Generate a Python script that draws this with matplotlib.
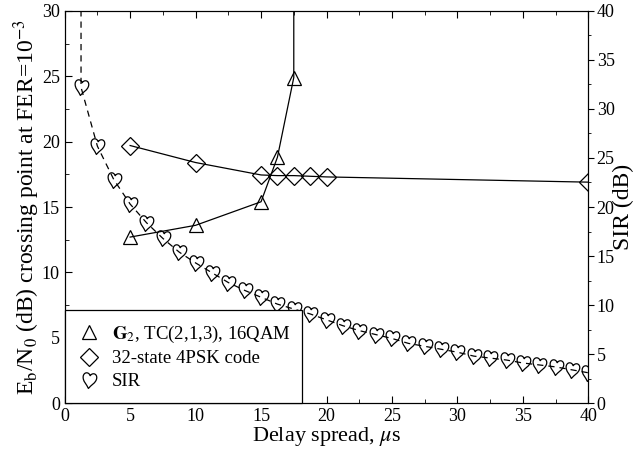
import numpy as np
import matplotlib
matplotlib.use("Agg")
import matplotlib.pyplot as plt
from matplotlib.lines import Line2D
from matplotlib.path import Path
from matplotlib.transforms import Affine2D

plt.rcParams['font.family'] = ['Liberation Serif', 'DejaVu Serif']
plt.rcParams['mathtext.fontset'] = 'stix'

# G2, TC(2,1,3), 16QAM  (left axis); last point runs off the top
g2_x = [5, 10, 15, 16.25, 17.5, 17.5]
g2_y = [12.7, 13.6, 15.4, 18.8, 24.9, 100]

# 32-state 4PSK code (left axis)
psk_x = [5, 10, 15, 16.25, 17.5, 18.75, 20, 40]
psk_y = [19.7, 18.4, 17.45, 17.4, 17.4, 17.35, 17.3, 16.9]

# SIR in dB (right axis); first point runs off the top
sir_x = [1.25] + [1.25 * k for k in range(1, 33)]
sir_y = [100, 32.2, 26.2, 22.8, 20.3, 18.4, 16.8, 15.4, 14.3, 13.3, 12.3,
         11.5, 10.8, 10.1, 9.6, 9.1, 8.5, 7.9, 7.4, 7.0, 6.6, 6.1, 5.8,
         5.5, 5.2, 4.8, 4.6, 4.4, 4.1, 3.9, 3.7, 3.4, 3.1]

labels = [r'$\mathbf{G}_2$, TC(2,1,3), 16QAM', '32-state 4PSK code', 'SIR']

# outline heart marker, tilted slightly like the original
verts = [(0, -1),
         (-0.25, -0.55), (-0.85, -0.2), (-0.85, 0.4),
         (-0.85, 0.95), (-0.25, 1.1), (0, 0.6),
         (0.25, 1.1), (0.85, 0.95), (0.85, 0.4),
         (0.85, -0.2), (0.25, -0.55), (0, -1),
         (0, -1)]
codes = [Path.MOVETO] + [Path.CURVE4] * 12 + [Path.CLOSEPOLY]
heart = Path(verts, codes).transformed(Affine2D().rotate_deg(-8))

fig = plt.figure(figsize=(6.34, 4.5), dpi=100)
ax = fig.add_axes([0.102, 0.104, 0.826, 0.872])
ax2 = ax.twinx()

ax.plot(g2_x, g2_y, color='k', lw=0.9, marker='^', ms=10, mfc='none',
        mec='k', mew=0.9, markevery=range(5), zorder=3)
ax.plot(psk_x, psk_y, color='k', lw=0.9, marker='D', ms=9, mfc='none',
        mec='k', mew=0.9, zorder=3)
ax2.plot(sir_x, sir_y, color='k', lw=0.9, ls=(0, (5, 4)),
         marker=heart, ms=13, mfc='none', mec='k', mew=0.9,
         markevery=range(1, len(sir_x)))

ax.set_xlim(0, 40)
ax.set_ylim(0, 30)
ax2.set_ylim(0, 40)

ax.set_xticks(np.arange(0, 41, 5))
ax.set_xticks(np.arange(0, 41, 2.5), minor=True)
ax.set_yticks(np.arange(0, 31, 5))
ax.set_yticks(np.arange(0, 31, 2.5), minor=True)
ax2.set_yticks(np.arange(0, 41, 5))
ax2.set_yticks(np.arange(0, 41, 2.5), minor=True)

ax.tick_params(which='both', direction='in', top=True, labelsize=13)
ax.tick_params(which='major', length=5)
ax.tick_params(which='minor', length=3)
ax2.tick_params(which='both', direction='out', labelsize=13)
ax2.tick_params(which='major', length=4, pad=2)
ax2.tick_params(which='minor', length=2.5)

ax.set_xlabel(r'Delay spread, $\mu$s', fontsize=16, labelpad=0)
ax.set_ylabel(r'E$_\mathrm{b}$/N$_0$ (dB) crossing point at FER=10$^{-3}$',
              fontsize=17, labelpad=0)
ax2.set_ylabel('SIR (dB)', fontsize=17)
ax2.yaxis.set_label_coords(1.047, 0.5)

handles = [
    Line2D([], [], ls='none', marker='^', ms=10, mfc='none', mec='k', mew=0.9),
    Line2D([], [], ls='none', marker='D', ms=9, mfc='none', mec='k', mew=0.9),
    Line2D([], [], ls='none', marker=heart, ms=13, mfc='none', mec='k', mew=0.9),
]
leg = ax2.legend(handles, labels, loc='lower left',
                 bbox_to_anchor=(0, 0, 0.453, 0.227), mode='expand',
                 borderaxespad=0, fancybox=False, framealpha=1,
                 edgecolor='k', fontsize=13.5, handlelength=1.2,
                 handletextpad=0.6, labelspacing=0.3, borderpad=0.7)
leg.get_frame().set_linewidth(0.9)

fig.savefig('out.png', dpi=100)
